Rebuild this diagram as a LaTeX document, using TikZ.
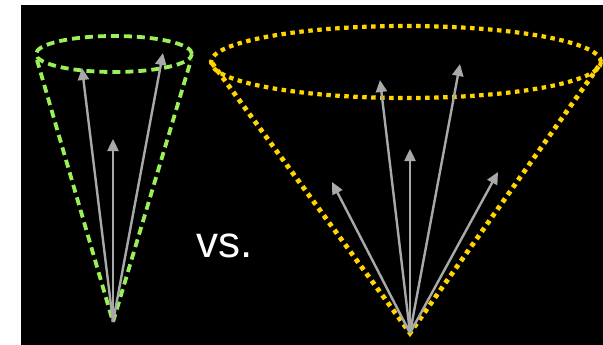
\documentclass[tikz,border=0pt]{standalone}
\usepackage{fontspec}
\setmainfont{Liberation Sans}
\usetikzlibrary{arrows.meta}
\definecolor{conegreen}{RGB}{155,240,90}
\definecolor{coneyellow}{RGB}{255,212,0}
\definecolor{vecgray}{RGB}{168,170,170}
\tikzset{
  greencone/.style={draw=conegreen, line width=3.8pt, dash pattern=on 8pt off 5pt},
  yellowcone/.style={draw=coneyellow, line width=4.8pt, dash pattern=on 4.5pt off 4.5pt},
  vec/.style={draw=vecgray, line width=2.4pt, -{Triangle[length=12pt,width=11pt]}},
}
\begin{document}
\begin{tikzpicture}[x=1pt,y=-1pt]
\useasboundingbox (0,0) rectangle (603,345);
\fill[white] (0,0) rectangle (603,345);
\fill[black] (21,5) rectangle (603,345);
% green cone
\coordinate (ga) at (113,322);
\coordinate (gl) at (37,60);
\coordinate (gr) at (191,60);
\draw[greencone] (114,54) ellipse [x radius=78pt, y radius=18pt];
\draw[greencone] (gl) -- (ga) -- (gr);
\coordinate (g1) at (82,68);
\coordinate (g2) at (113,139);
\coordinate (g3) at (163,53);
\draw[vec] (ga) -- (g1);
\draw[vec] (ga) -- (g2);
\draw[vec] (ga) -- (g3);
% yellow cone
\coordinate (ya) at (410,333);
\coordinate (yl) at (212,63);
\coordinate (yr) at (601,63);
\draw[yellowcone, line width=4.2pt] (406,62) ellipse [x radius=195pt, y radius=36pt];
\draw[yellowcone] (yl) -- (ya) -- (yr);
\coordinate (y1) at (332,182);
\coordinate (y2) at (380,80);
\coordinate (y3) at (410,149);
\coordinate (y4) at (460,64);
\coordinate (y5) at (498,172);
\draw[vec] (ya) -- (y1);
\draw[vec] (ya) -- (y2);
\draw[vec] (ya) -- (y3);
\draw[vec] (ya) -- (y4);
\draw[vec] (ya) -- (y5);
% label
\node[text=white, inner sep=0pt, anchor=base west, font=\fontsize{44}{52}\selectfont] (vs) at (196,257) {vs.};
\end{tikzpicture}
\end{document}
